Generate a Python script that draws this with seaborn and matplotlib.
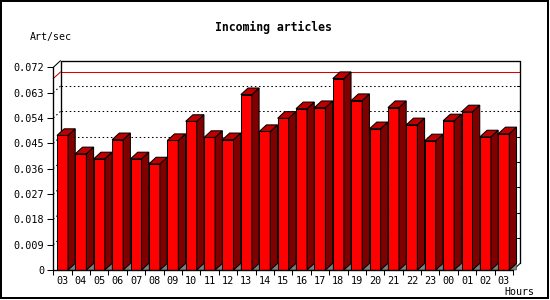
import numpy as np
import pandas as pd
import matplotlib
matplotlib.use("Agg")
import matplotlib.pyplot as plt
from matplotlib.patches import Polygon, Rectangle
from matplotlib.lines import Line2D
import seaborn as sns

hours = ["03", "04", "05", "06", "07", "08", "09", "10", "11", "12", "13", "14",
         "15", "16", "17", "18", "19", "20", "21", "22", "23", "00", "01", "02", "03"]
rates = [0.0478, 0.0413, 0.0395, 0.0463, 0.0395, 0.0377, 0.0460, 0.0528, 0.0471,
         0.0463, 0.0623, 0.0492, 0.0539, 0.0573, 0.0577, 0.0680, 0.0602, 0.0502,
         0.0577, 0.0516, 0.0459, 0.0530, 0.0562, 0.0473, 0.0484]
y_ticks = [0, 0.009, 0.018, 0.027, 0.036, 0.045, 0.054, 0.063, 0.072]
y_ticklabels = ["0", "0.009", "0.018", "0.027", "0.036", "0.045", "0.054", "0.063", "0.072"]

W, H = 550, 300
FRONT = "#ff0000"
SIDE = "#800000"
TOP = "#c00000"
mono = "DejaVu Sans Mono"

sns.set_theme(style="white")
plt.rcParams["font.family"] = [mono]

fig = plt.figure(figsize=(W / 100, H / 100), dpi=100)
fig.patch.set_facecolor("white")
left_px, right_px, top_px, bot_px = 53.3, 513.0, 67.3, 270.0
ax = fig.add_axes([left_px / W, (H - bot_px) / H, (right_px - left_px) / W, (bot_px - top_px) / H])

df = pd.DataFrame({"pos": np.arange(len(rates)), "rate": rates})
sns.barplot(data=df, x="pos", y="rate", color=FRONT, saturation=1, width=0.6,
            edgecolor="black", linewidth=0.75, ax=ax)

n = len(rates)
ax.set_xlim(-0.5, n - 0.5)
ax.set_ylim(0, 0.072)
ax.set_xlabel("")
ax.set_ylabel("")
for s in ax.spines.values():
    s.set_visible(False)
ax.patch.set_visible(False)

# depth offsets in data units
ax_w_px = right_px - left_px
ax_h_px = bot_px - top_px
dx = 7.2 * n / ax_w_px
dy = 6.6 * 0.072 / ax_h_px
x0, x1 = -0.5, n - 0.5
ymax = 0.072

lw = 0.75
dot = (0, (1.45, 2.5))
# back plane gridlines (dotted)
for v in y_ticks[1:-1]:
    ax.add_line(Line2D([x0 + dx, x1 + dx], [v + dy, v + dy], color="black", lw=lw,
                       linestyle=dot, zorder=1, clip_on=False))
    ax.add_line(Line2D([x0, x0 + dx], [v, v + dy], color="black", lw=lw,
                       linestyle=dot, zorder=1, clip_on=False))
    ax.add_line(Line2D([x1 + dx - 3 * n / ax_w_px, x1 + dx], [v + dy, v + dy], color="black",
                       lw=lw, zorder=1, clip_on=False))
# max line (red)
mx = max(rates)
ax.add_line(Line2D([x0 + dx, x1 + dx], [mx + dy, mx + dy], color="#dd0000", lw=lw, zorder=1.5, clip_on=False))
ax.add_line(Line2D([x0, x0 + dx], [mx, mx + dy], color="#dd0000", lw=lw, zorder=1.5, clip_on=False))
# back frame
ax.add_line(Line2D([x0 + dx, x0 + dx, x1 + dx, x1 + dx], [dy, ymax + dy, ymax + dy, dy],
                   color="black", lw=lw * 1.3, zorder=1.6, clip_on=False))
ax.add_line(Line2D([x0, x0 + dx], [ymax, ymax + dy], color="black", lw=lw, zorder=1.6, clip_on=False))
ax.add_line(Line2D([x1, x1 + dx], [0, dy], color="black", lw=lw, zorder=1.6, clip_on=False))

# 3D bar sides and tops
for i, p in enumerate(ax.patches):
    z = 3 + i * 0.1
    p.set_zorder(z)
    p.set_clip_on(False)
    xl = p.get_x()
    xr = xl + p.get_width()
    h = p.get_height()
    ax.add_patch(Polygon([[xr, 0], [xr + dx, dy], [xr + dx, 0]], closed=True,
                         facecolor="#808080", edgecolor="#404040", lw=0.4, zorder=z - 0.01, clip_on=False))
    ax.add_patch(Polygon([[xr, 0], [xr + dx, dy], [xr + dx, h + dy], [xr, h]], closed=True,
                         facecolor=SIDE, edgecolor="black", lw=lw, zorder=z + 0.01, clip_on=False))
    ax.add_patch(Polygon([[xl, h], [xl + dx, h + dy], [xr + dx, h + dy], [xr, h]], closed=True,
                         facecolor=TOP, edgecolor="black", lw=lw, zorder=z + 0.02, clip_on=False))

# front axes lines
ax.add_line(Line2D([x0, x0], [0, ymax], color="black", lw=lw * 1.3, zorder=10, clip_on=False))
ax.add_line(Line2D([x0, x1], [0, 0], color="black", lw=lw * 1.3, zorder=10, clip_on=False))

# ticks
ax.set_yticks(y_ticks)
ax.set_yticklabels(y_ticklabels, fontsize=7.3, family=mono)
ax.tick_params(axis="y", left=True, length=4, width=0.75, color="black", pad=2.5, labelcolor="black")
ax.set_xticks(np.arange(n))
ax.set_xticklabels(hours, fontsize=7.3, family=mono)
ax.set_xticks(np.arange(n + 1) - 0.5, minor=True)
ax.tick_params(axis="x", which="major", bottom=False, length=0, pad=4.5, labelcolor="black")
ax.tick_params(axis="x", which="minor", bottom=True, length=3.5, width=0.75, color="black")

fig.text(273.5 / W, 1 - 27 / H, "Incoming articles", ha="center", va="center",
         fontsize=8.3, fontweight="bold", family=mono, color="black")
fig.text(30 / W, 1 - 37 / H, "Art/sec", ha="left", va="center", fontsize=7.2, family=mono, color="black")
fig.text(534 / W, 1 - 292 / H, "Hours", ha="right", va="center", fontsize=7.2, family=mono, color="black")

# image border
fig.add_artist(Rectangle((1 / W, 2 / H), 547 / W, 297 / H, transform=fig.transFigure,
                         fill=False, edgecolor="black", lw=1.44))

fig.savefig("out.png", dpi=100, facecolor="white")
